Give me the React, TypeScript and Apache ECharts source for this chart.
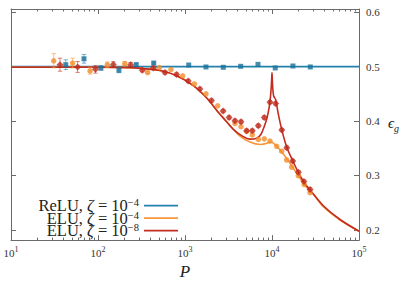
import React, { useEffect, useRef } from "react";
import * as echarts from "echarts";

// ---- tick definitions ----
const xDecades = [1, 2, 3, 4];
const xMinorMultipliers = [2, 3, 4, 5, 6, 7, 8, 9];
const yTickValues = [0.2, 0.3, 0.4, 0.5, 0.6];

// ---- theory curves ----
const reluCurveP = [10, 100000];
const reluCurveEps = [0.5, 0.5];

const eluLoCurveP = [10, 105, 233, 332, 516, 803, 1247, 1778, 2525, 2884, 3289, 4285, 5585, 7278, 8530, 9750, 11120, 12920, 14750, 17580, 20060, 23940, 29850, 38900, 60540, 100000];
const eluLoCurveEps = [0.499, 0.499, 0.4982, 0.4964, 0.4928, 0.4832, 0.4652, 0.4423, 0.4123, 0.402, 0.3919, 0.3721, 0.3613, 0.3568, 0.3586, 0.3613, 0.355, 0.3432, 0.3312, 0.3132, 0.2995, 0.282, 0.2658, 0.2423, 0.218, 0.1973];

const eluHiCurveP = [10, 105, 233, 332, 516, 803, 1247, 1778, 2525, 2884, 3592, 4677, 5585, 6668, 7476, 8150, 8770, 9250, 9600, 9850, 10000, 10150, 10450, 11030, 11730, 12920, 14750, 17310, 20060, 23300, 27380, 38900, 60540, 100000];
const eluHiCurveEps = [0.499, 0.499, 0.4982, 0.4964, 0.4928, 0.4832, 0.4652, 0.4423, 0.4123, 0.402, 0.3847, 0.3712, 0.3667, 0.3685, 0.3757, 0.39, 0.406, 0.424, 0.444, 0.468, 0.489, 0.466, 0.446, 0.4393, 0.4153, 0.3847, 0.3523, 0.327, 0.3054, 0.2874, 0.273, 0.2441, 0.2189, 0.1973];

// ---- simulation points ----
const reluP = [42.6, 69, 108, 174, 275, 437, 1104, 1741, 2754, 4365, 6900, 10900, 17400, 27540];
const reluEps = [0.5036, 0.5144, 0.4975, 0.4934, 0.5036, 0.5066, 0.503, 0.4994, 0.4988, 0.5006, 0.5042, 0.4976, 0.5012, 0.4994];
const reluErr = [0.009, 0.008, 0.004, 0.0045, 0.003, 0.002, 0, 0, 0, 0, 0, 0, 0, 0];

const eluLoP = [31, 51, 81, 128, 203, 372, 507, 690, 941, 1280, 1742, 2376, 3758, 4403, 5110, 5940, 6970, 8150, 9490, 11330, 12920, 14740, 16830, 20040, 23480, 27360];
const eluLoEps = [0.5108, 0.5066, 0.4922, 0.5036, 0.5054, 0.4892, 0.4982, 0.4946, 0.4832, 0.4681, 0.4501, 0.4279, 0.3955, 0.3895, 0.381, 0.3744, 0.3661, 0.3672, 0.3631, 0.3535, 0.3445, 0.3283, 0.315, 0.2995, 0.2832, 0.2681];
const eluLoErr = [0.013, 0.009, 0.006, 0.005, 0.004, 0.002, 0, 0, 0, 0, 0, 0, 0, 0, 0, 0, 0, 0, 0, 0, 0, 0, 0, 0, 0, 0];

const eluHiP = [36.6, 58.3, 93.6, 150, 237, 323, 433, 589, 800, 1090, 1483, 2015, 2745, 3210, 3752, 4402, 5110, 5940, 6960, 8140, 9470, 11000, 12960, 14780, 17310, 20100, 23300, 27380];
const eluHiEps = [0.5036, 0.4994, 0.4951, 0.5041, 0.5036, 0.4933, 0.4977, 0.4892, 0.4856, 0.4735, 0.4591, 0.4375, 0.4184, 0.4063, 0.4004, 0.3986, 0.3823, 0.3823, 0.3914, 0.4063, 0.4346, 0.4321, 0.3834, 0.351, 0.3265, 0.306, 0.2886, 0.2742];
const eluHiErr = [0.012, 0.01, 0.007, 0.005, 0.004, 0.003, 0.003, 0.003, 0.003, 0.003, 0.003, 0.003, 0.003, 0.003, 0.003, 0.003, 0.003, 0.003, 0.003, 0.003, 0.003, 0.003, 0.003, 0.003, 0.003, 0.003, 0.003, 0.003];

const seriesNames = ["ReLU, ζ = 10^-4", "ELU, ζ = 10^-4", "ELU, ζ = 10^-8"];
const legendLabels = [
  "{t|ReLU, }{i|ζ}{t| = 10}{s|−4}",
  "{t|ELU, }{i|ζ}{t| = 10}{s|−4}",
  "{t|ELU, }{i|ζ}{t| = 10}{s|−8}",
];

const BLUE = "#2381ab";
const BLUE_M = "#176f99";
const ORANGE = "#f5973a";
const ORANGE_M = "#f28c2a";
const RED = "#c22d20";
const RED_M = "#bf2a1d";
const FRAME = "#6a6a6a";
const FONT = "'Liberation Serif', 'DejaVu Serif', serif";

const zip2 = (a: number[], b: number[]) => a.map((v, i) => [v, b[i]]);
const zip3 = (a: number[], b: number[], c: number[]) => a.map((v, i) => [v, b[i], c[i]]);

const minorLogs: number[] = [];
xDecades.forEach((d) => xMinorMultipliers.forEach((m) => minorLogs.push(Math.log10(m * Math.pow(10, d)))));

function errorSeries(data: number[][], color: string) {
  return {
    type: "custom",
    xAxisIndex: 0,
    yAxisIndex: 0,
    silent: true,
    z: 3,
    data: data,
    encode: { x: 0, y: 1 },
    renderItem: (params: any, api: any) => {
      const x = api.value(0);
      const y = api.value(1);
      const e = api.value(2);
      if (!e) return { type: "group", children: [] };
      const hi = api.coord([x, y + e]);
      const lo = api.coord([x, y - e]);
      const c = 2.2;
      const style = { stroke: color, lineWidth: 1, opacity: 0.6 };
      return {
        type: "group",
        children: [
          { type: "line", shape: { x1: hi[0], y1: hi[1], x2: lo[0], y2: lo[1] }, style },
          { type: "line", shape: { x1: hi[0] - c, y1: hi[1], x2: hi[0] + c, y2: hi[1] }, style },
          { type: "line", shape: { x1: lo[0] - c, y1: lo[1], x2: lo[0] + c, y2: lo[1] }, style },
        ],
      };
    },
  };
}

const legendRowTops = [197.2, 209.7, 222.1];

function makeLegend(i: number) {
  return {
    data: [{ name: seriesNames[i], icon: "rect" }],
    orient: "vertical",
    align: "right",
    right: 229,
    top: legendRowTops[i],
    padding: 0,
    itemWidth: 34,
    itemHeight: 1.8,
    selectedMode: false,
    formatter: (name: string) => legendLabels[seriesNames.indexOf(name)],
    textStyle: {
      fontFamily: FONT,
      fontSize: 16.5,
      rich: {
        t: { fontFamily: FONT, fontSize: 16.5, color: "#222" },
        i: { fontFamily: FONT, fontSize: 16.5, color: "#222", fontStyle: "italic" },
        s: { fontFamily: FONT, fontSize: 10.5, color: "#222", verticalAlign: "top", lineHeight: 8 },
      },
    },
  };
}

export default function App() {
  const ref = useRef<HTMLDivElement>(null);
  useEffect(() => {
    if (!ref.current) return;
    const chart = echarts.init(ref.current, undefined, { renderer: "svg" });
    const tickRich = {
      b: { fontFamily: FONT, fontSize: 11, color: "#333", lineHeight: 13, verticalAlign: "bottom" },
      s: { fontFamily: FONT, fontSize: 8, color: "#333", lineHeight: 8, verticalAlign: "top" },
    };
    const option: any = {
      animation: false,
      backgroundColor: "#fff",
      grid: { left: 11, right: 48, top: 9, bottom: 40, containLabel: false },
      legend: [makeLegend(0), makeLegend(1), makeLegend(2)],
      xAxis: [
        {
          type: "log",
          logBase: 10,
          min: 10,
          max: 100000,
          position: "bottom",
          axisLine: { show: true, lineStyle: { color: FRAME, width: 1 } },
          axisTick: { show: true, inside: true, length: 5, lineStyle: { color: FRAME } },
          splitLine: { show: false },
          minorTick: { show: false },
          axisLabel: {
            margin: 5,
            formatter: (v: number) => `{b|10}{s|${Math.round(Math.log10(v))}}`,
            rich: tickRich,
          },
          name: "P",
          nameLocation: "middle",
          nameGap: 22.5,
          nameTextStyle: { fontFamily: FONT, fontSize: 17, fontStyle: "italic", color: "#222" },
        },
        {
          type: "log",
          logBase: 10,
          min: 10,
          max: 100000,
          position: "top",
          axisLine: { show: true, lineStyle: { color: FRAME, width: 1 } },
          axisTick: { show: true, inside: true, length: 5, lineStyle: { color: FRAME } },
          axisLabel: { show: false },
          splitLine: { show: false },
        },
        {
          type: "value",
          min: 1,
          max: 5,
          position: "bottom",
          axisLine: { show: false },
          axisTick: { show: true, inside: true, length: 2.5, customValues: minorLogs, lineStyle: { color: FRAME } },
          axisLabel: { show: false },
          splitLine: { show: false },
        },
        {
          type: "value",
          min: 1,
          max: 5,
          position: "top",
          axisLine: { show: false },
          axisTick: { show: true, inside: true, length: 2.5, customValues: minorLogs, lineStyle: { color: FRAME } },
          axisLabel: { show: false },
          splitLine: { show: false },
        },
      ],
      yAxis: [
        {
          type: "value",
          min: 0.181,
          max: 0.606,
          position: "right",
          axisLine: { show: true, lineStyle: { color: FRAME, width: 1 } },
          axisTick: { show: true, inside: true, length: 5, customValues: yTickValues, lineStyle: { color: FRAME } },
          axisLabel: {
            margin: 7,
            customValues: yTickValues,
            formatter: (v: number) => v.toFixed(1),
            fontFamily: FONT,
            fontSize: 11,
            color: "#333",
          },
          splitLine: { show: false },
          name: "{e|ϵ}{g|g}",
          nameLocation: "middle",
          nameRotate: 0,
          nameGap: 29,
          nameTextStyle: {
            rich: {
              e: { fontFamily: FONT, fontSize: 15, fontStyle: "italic", color: "#222", lineHeight: 14, verticalAlign: "top" },
              g: { fontFamily: FONT, fontSize: 10, fontStyle: "italic", color: "#222", lineHeight: 18, verticalAlign: "bottom" },
            },
          },
        },
        {
          type: "value",
          min: 0.181,
          max: 0.606,
          position: "left",
          axisLine: { show: true, lineStyle: { color: FRAME, width: 1 } },
          axisTick: { show: true, inside: true, length: 5, customValues: yTickValues, lineStyle: { color: FRAME } },
          axisLabel: { show: false },
          splitLine: { show: false },
        },
      ],
      series: [
        {
          name: seriesNames[0],
          type: "line",
          data: zip2(reluCurveP, reluCurveEps),
          symbol: "none",
          lineStyle: { color: BLUE, width: 1.6 },
          itemStyle: { color: BLUE },
          z: 2,
        },
        {
          name: seriesNames[1],
          type: "line",
          data: zip2(eluLoCurveP, eluLoCurveEps),
          symbol: "none",
          smooth: 0.3,
          lineStyle: { color: ORANGE, width: 1.6 },
          itemStyle: { color: ORANGE },
          z: 2,
        },
        {
          name: seriesNames[2],
          type: "line",
          data: zip2(eluHiCurveP, eluHiCurveEps),
          symbol: "none",
          smooth: 0.3,
          lineStyle: { color: RED, width: 1.6 },
          itemStyle: { color: RED },
          z: 2,
        },
        errorSeries(zip3(reluP, reluEps, reluErr), BLUE),
        errorSeries(zip3(eluLoP, eluLoEps, eluLoErr), ORANGE),
        errorSeries(zip3(eluHiP, eluHiEps, eluHiErr), RED),
        {
          type: "scatter",
          data: zip2(reluP, reluEps),
          symbol: "rect",
          symbolSize: 5,
          itemStyle: { color: BLUE_M },
          z: 4,
        },
        {
          type: "scatter",
          data: zip2(eluLoP, eluLoEps),
          symbol: "circle",
          symbolSize: 5.5,
          itemStyle: { color: ORANGE_M },
          z: 4,
        },
        {
          type: "scatter",
          data: zip2(eluHiP, eluHiEps),
          symbol: "diamond",
          symbolSize: 7,
          itemStyle: { color: RED_M },
          z: 4,
        },
      ],
    };
    chart.setOption(option);
    return () => chart.dispose();
  }, []);
  return <div ref={ref} style={{ position: "fixed", left: 0, top: 0, width: 407, height: 285 }} />;
}
